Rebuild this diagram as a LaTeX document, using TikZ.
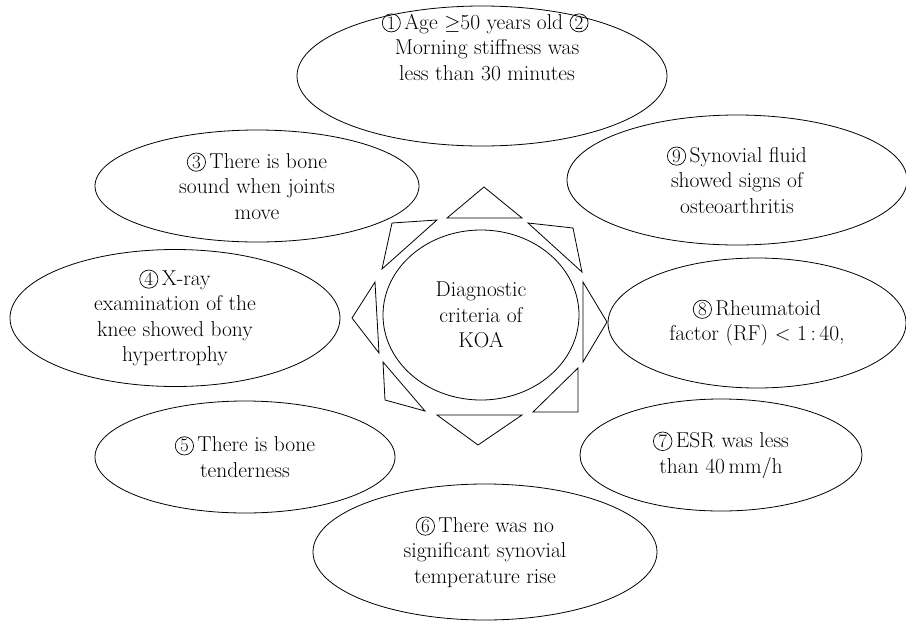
\documentclass[tikz,border=0pt]{standalone}
\usepackage{amssymb,amsmath}
\usetikzlibrary{shapes.geometric}
\newcommand{\cnum}[1]{\tikz[baseline=(cn.base)]\node[shape=circle,draw,minimum width=0pt,minimum height=0pt,
    inner sep=1pt,line width=.7pt,font=\fontsize{19}{19}\selectfont](cn){#1};\,}

\begin{document}
\begin{tikzpicture}[x=1pt,y=-1pt,line width=.8pt,
    crit/.style={draw,ellipse,inner sep=0pt,align=center,font=\fontsize{21.5}{25.5}\selectfont},
    txt/.style={align=center,inner sep=0pt,font=\fontsize{21.5}{25.5}\selectfont}]
    \useasboundingbox (0,0) rectangle (906,622);
    % criteria:
    \node[crit,minimum width=370,minimum height=140] (c1) at (482,76){};
    \node[txt] (t1) at (487,47){\cnum{1}Age $\geq$50 years old \cnum{2}\\Morning stiffness was\\less than 30 minutes};
    \node[crit,minimum width=324,minimum height=112] (c3) at (257,186){\cnum{3}There is bone\\sound when joints\\move};
    \node[crit,minimum width=330,minimum height=137] (c4) at (175,318){\cnum{4}X-ray\\examination of the\\knee showed bony\\hypertrophy};
    \node[crit,minimum width=300,minimum height=112] (c5) at (245,457){\cnum{5}There is bone\\tenderness};
    \node[crit,minimum width=344,minimum height=136] (c6) at (485,552){\cnum{6}There was no\\significant synovial\\temperature rise};
    \node[crit,minimum width=282,minimum height=112] (c7) at (721,455){\cnum{7}ESR was less\\than 40\,mm/h};
    \node[crit,minimum width=298,minimum height=130] (c8) at (757,323){\cnum{8}Rheumatoid\\factor (RF) $<$ 1\,:\,40,};
    \node[crit,minimum width=340,minimum height=130] (c9) at (737,180){\cnum{9}Synovial fluid\\showed signs of\\osteoarthritis};
    % centre:
    \node[crit,minimum width=196,minimum height=170] (koa) at (481,315){Diagnostic\\criteria of\\KOA};
    % triangles:
    \draw (484,187) -- (447,218) -- (522,218) -- cycle;
    \draw (528,223) -- (573,228) -- (582,272) -- cycle;
    \draw (583,282) -- (607,322) -- (583,362) -- cycle;
    \draw (578,368) -- (578,412) -- (533,412) -- cycle;
    \draw (437,415) -- (522,415) -- (478,445) -- cycle;
    \draw (383,362) -- (385,400) -- (425,411) -- cycle;
    \draw (375,282) -- (352,318) -- (379,353) -- cycle;
    \draw (392,223) -- (437,220) -- (382,269) -- cycle;
\end{tikzpicture}
\end{document}
